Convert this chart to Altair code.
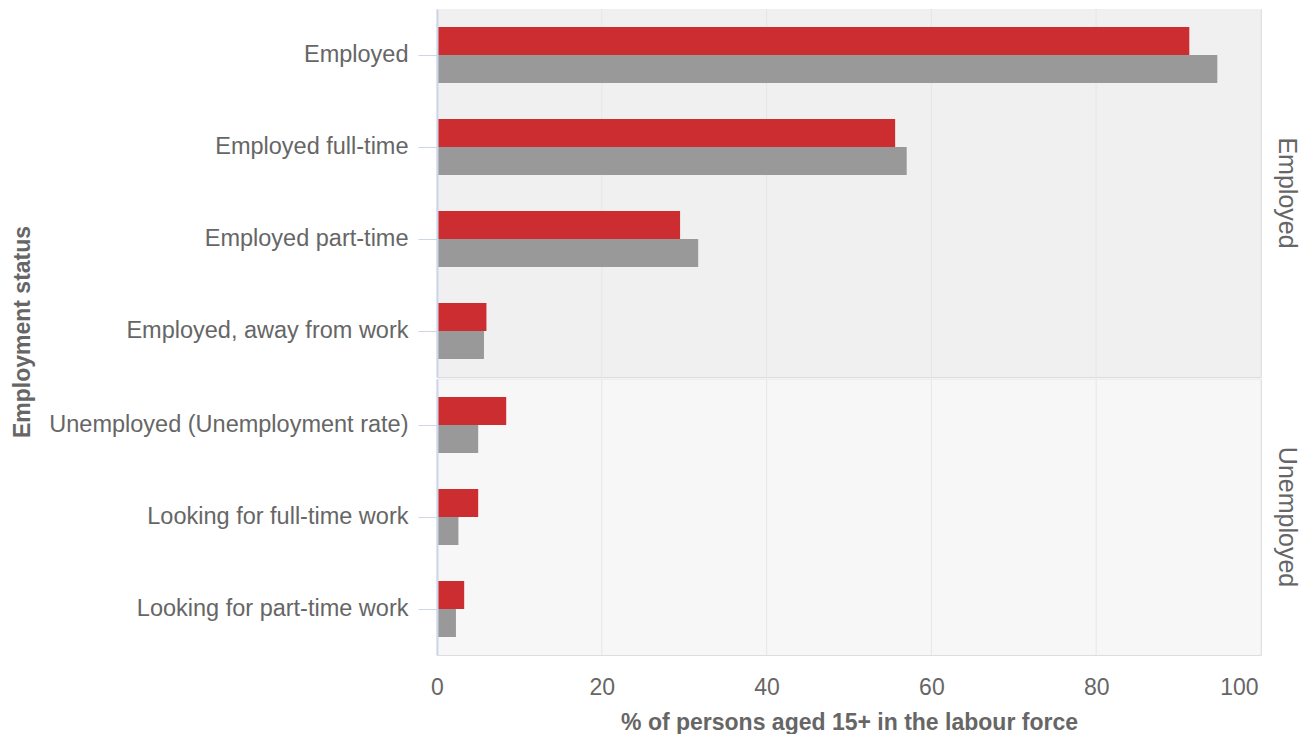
import altair as alt
import pandas as pd

FONT = "Liberation Sans"

categories = [
    "Employed",
    "Employed full-time",
    "Employed part-time",
    "Employed, away from work",
    "Unemployed (Unemployment rate)",
    "Looking for full-time work",
    "Looking for part-time work",
]
groups = ["Employed", "Employed", "Employed", "Employed",
          "Unemployed", "Unemployed", "Unemployed"]
group_order = ["Employed", "Unemployed"]
series_names = ["Selected area", "Australia"]
series_colors = ["#cc2d30", "#999999"]
area_values = [91.3, 55.6, 29.5, 6.0, 8.4, 5.0, 3.3]
australia_values = [94.7, 57.0, 31.7, 5.7, 5.0, 2.6, 2.3]
x_ticks = [0, 20, 40, 60, 80, 100]

rows = []
for c, g, a, b in zip(categories, groups, area_values, australia_values):
    rows.append({"category": c, "group": g, "series": series_names[0], "value": a})
    rows.append({"category": c, "group": g, "series": series_names[1], "value": b})
df = pd.DataFrame(rows)

W = 824
STEP = 92
BAR = 28
TEXT = "#666666"

y_enc = alt.Y(
    "category:N",
    sort=categories,
    scale=alt.Scale(paddingInner=0, paddingOuter=0),
    axis=alt.Axis(
        title=None, labelFontSize=23.5, labelColor=TEXT, labelFont=FONT,
        tickSize=19, tickColor="#ccd6eb", domainColor="#ccd6eb", domainWidth=2,
        labelPadding=10, grid=False, labelLimit=600, zindex=1,
    ),
)

x_axis = alt.Axis(
    values=x_ticks, grid=False, domain=False, ticks=False,
    labelFontSize=23, labelColor=TEXT, labelFont=FONT, labelPadding=20,
    labelFlush=False,
    labelAlign=alt.expr(f"datum.value >= {max(x_ticks)} ? 'right' : 'center'"),
    labelOffset=alt.expr(f"datum.value >= {max(x_ticks)} ? -3 : 0"),
    title="% of persons aged 15+ in the labour force",
    titleFontSize=23, titleFontWeight="bold", titleColor=TEXT,
    titleFont=FONT, titlePadding=12,
)
x_scale = alt.Scale(domain=[0, 100], nice=False)

bg = alt.Chart().mark_rect(strokeWidth=0).encode(
    y=y_enc,
    x=alt.value(0),
    x2=alt.value(W),
    fill=alt.condition(alt.datum.group == "Employed",
                       alt.value("#f0f0f0"), alt.value("#f7f7f7")),
)

grid = (
    alt.Chart()
    .transform_aggregate(n="count()", groupby=["group"])
    .transform_calculate(tick=str(x_ticks))
    .transform_flatten(["tick"])
    .mark_rule(color="#e6e6e6", strokeWidth=1)
    .encode(x=alt.X("tick:Q", scale=x_scale, axis=x_axis))
)

sep = (
    alt.Chart()
    .transform_aggregate(n="count()", groupby=["group"])
    .transform_filter(alt.datum.group == "Unemployed")
    .mark_rule(color="#e6e6e6", strokeWidth=1)
    .encode(x=alt.value(0), x2=alt.value(W), y=alt.value(0))
)


def bar_layer(i, offset):
    return (
        alt.Chart()
        .transform_filter(alt.datum.series == series_names[i])
        .mark_bar(
            height=alt.RelativeBandSize(band=BAR / STEP),
            yOffset=offset,
            color=series_colors[i],
        )
        .encode(
            y=y_enc,
            x=alt.X("value:Q", scale=x_scale, axis=x_axis),
        )
    )


bars_a = bar_layer(0, -BAR / 2)
bars_b = bar_layer(1, BAR / 2)

chart = (
    alt.layer(bg, grid, sep, bars_a, bars_b, data=df)
    .properties(width=W, height=alt.Step(STEP))
    .facet(
        row=alt.Row(
            "group:N",
            sort=group_order,
            title="Employment status",
            header=alt.Header(
                titleOrient="left", titleFontSize=23, titleFontWeight="bold",
                titleColor=TEXT, titleFont=FONT, titlePadding=3,
                labelOrient="right", labelAngle=90, labelFontSize=25,
                labelColor=TEXT, labelFont=FONT, labelPadding=12,
            ),
        ),
        spacing=0,
    )
    .resolve_scale(y="independent")
    .properties(padding={"left": 4, "top": 0, "right": 3, "bottom": 0})
    .configure_view(stroke=None)
    .configure(font=FONT)
)

chart.save("out.html", embed_options={"renderer": "svg", "actions": False})
